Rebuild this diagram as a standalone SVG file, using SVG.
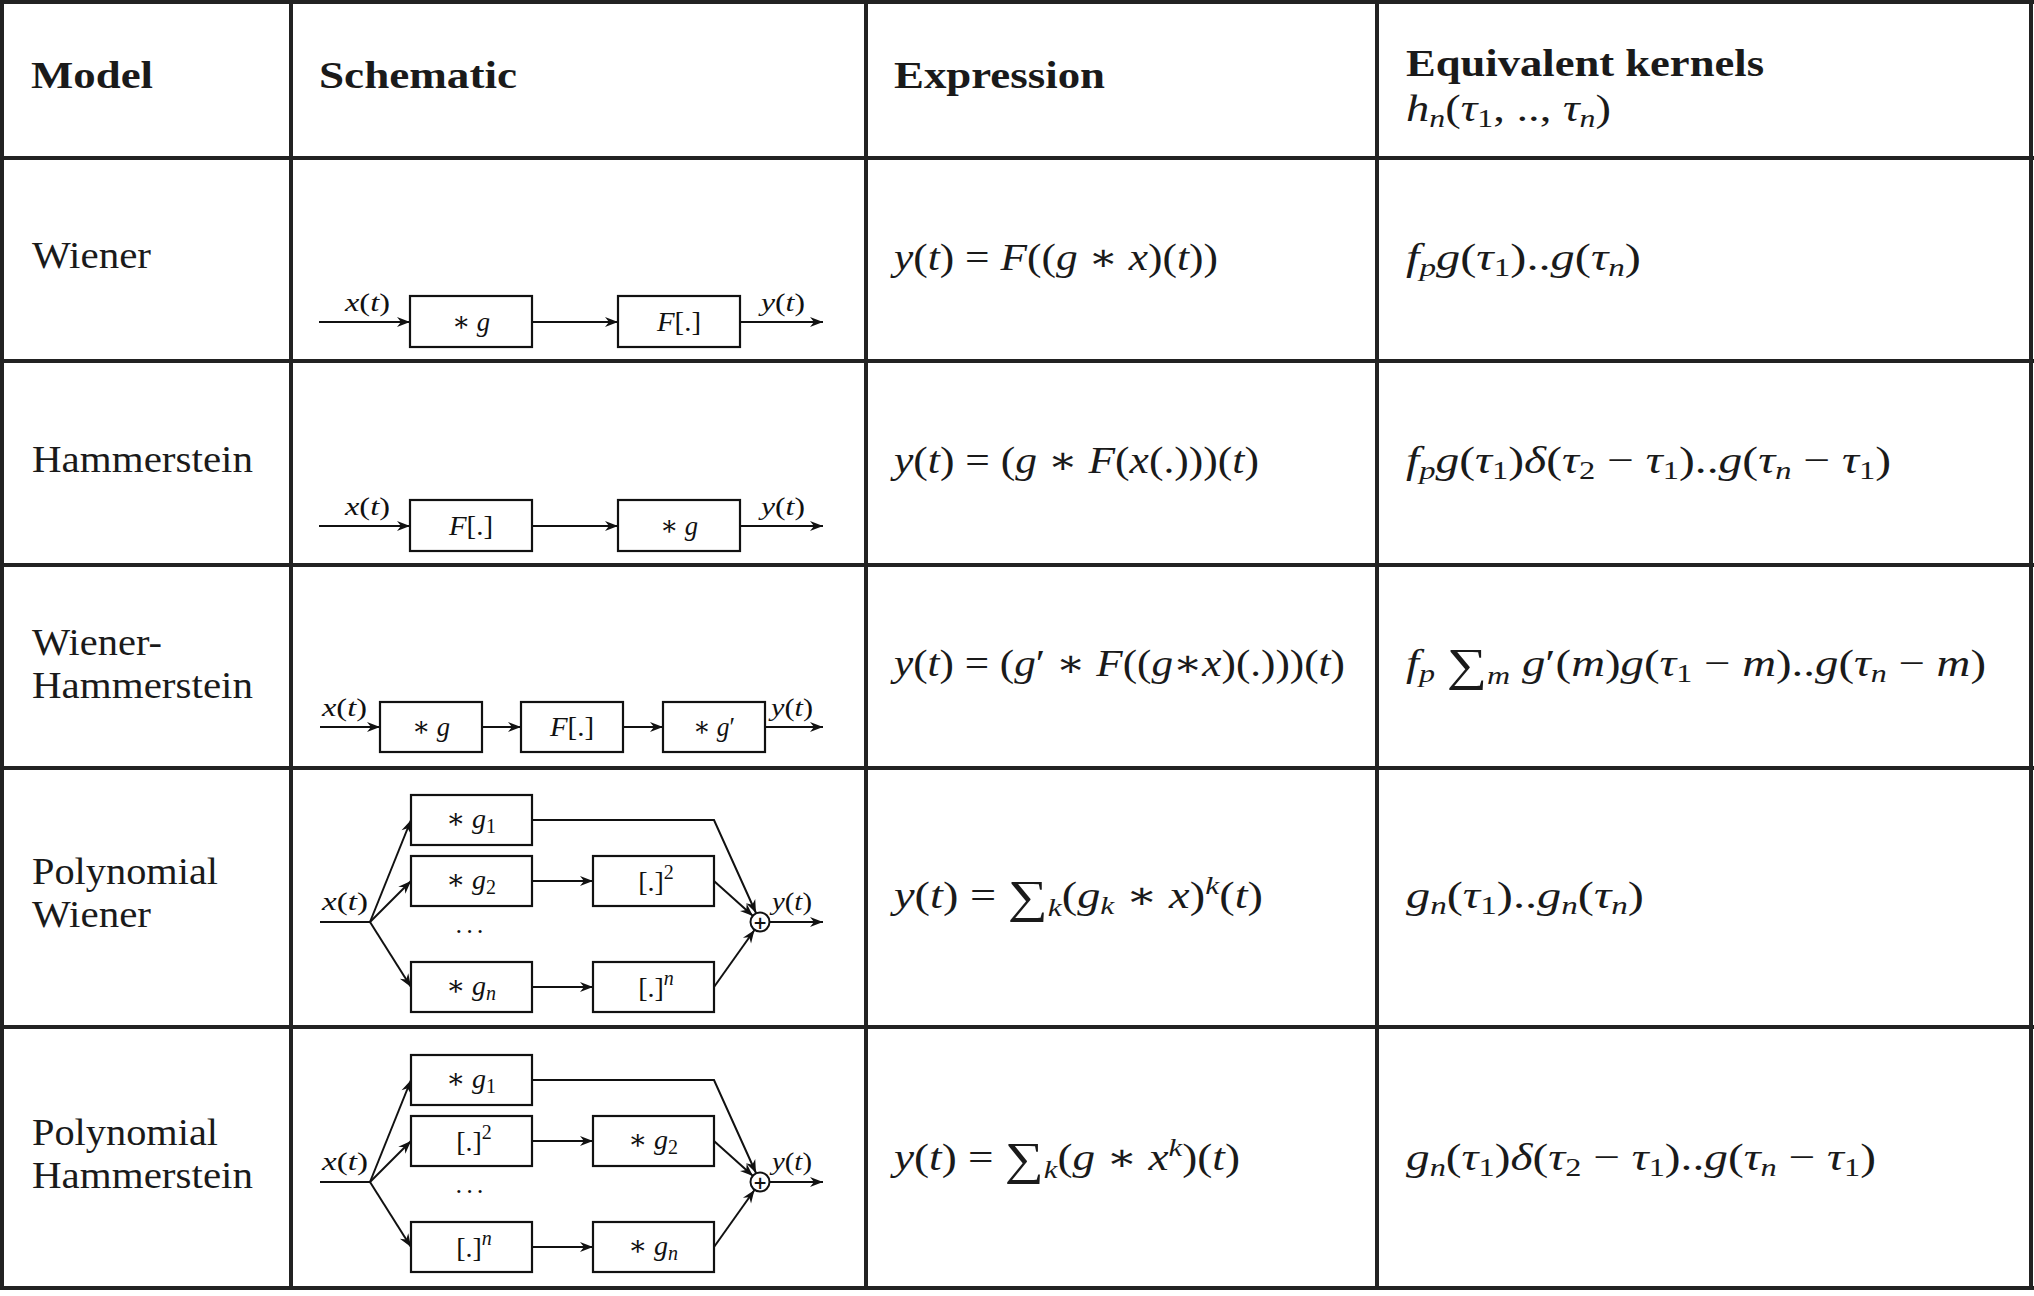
<svg xmlns="http://www.w3.org/2000/svg" width="2034" height="1296" viewBox="0 0 2034 1296">
<style>
.t{font-family:"Liberation Serif","DejaVu Serif",serif;font-size:38px;fill:#1a1a1a}
.hb{font-family:"Liberation Serif","DejaVu Serif",serif;font-size:38px;font-weight:bold;fill:#1a1a1a}
.m{font-family:"Liberation Serif","DejaVu Serif",serif;font-size:38px;fill:#1a1a1a}
.i{font-style:italic}
.s{font-size:26px}
.big{font-size:46px}
.d{font-family:"Liberation Serif","DejaVu Serif",serif;font-size:26px;fill:#111}
.bx{font-family:"Liberation Serif","DejaVu Serif",serif;font-size:28px;fill:#111}
.ds{font-size:20px}
.grid line{stroke:#222;stroke-width:4}
.box{fill:#fff;stroke:#111;stroke-width:2.2}
.w{fill:none;stroke:#111;stroke-width:2}
.a{fill:none;stroke:#111;stroke-width:2;marker-end:url(#ar)}
</style>
<defs>
<marker id="ar" viewBox="-14 -6 15 12" refX="0" refY="0" markerWidth="15" markerHeight="12" markerUnits="userSpaceOnUse" orient="auto">
<path d="M0,0 L-13,-5 L-9,0 L-13,5 Z" fill="#111"/>
</marker>
</defs>
<rect width="2034" height="1296" fill="#fff"/>

<g class="grid" id="grid">
<line x1="0" y1="2" x2="2034" y2="2"/>
<line x1="0" y1="158" x2="2034" y2="158"/>
<line x1="0" y1="361" x2="2034" y2="361"/>
<line x1="0" y1="565" x2="2034" y2="565"/>
<line x1="0" y1="768" x2="2034" y2="768"/>
<line x1="0" y1="1027" x2="2034" y2="1027"/>
<line x1="0" y1="1288" x2="2034" y2="1288"/>
<line x1="2" y1="0" x2="2" y2="1290"/>
<line x1="291" y1="0" x2="291" y2="1290"/>
<line x1="866" y1="0" x2="866" y2="1290"/>
<line x1="1377" y1="0" x2="1377" y2="1290"/>
<line x1="2031" y1="0" x2="2031" y2="1290"/>
</g>

<g id="header">
<text x="31" y="88" class="hb" textLength="122" lengthAdjust="spacingAndGlyphs">Model</text>
<text x="319" y="88" class="hb" textLength="198" lengthAdjust="spacingAndGlyphs">Schematic</text>
<text x="894" y="88" class="hb" textLength="211" lengthAdjust="spacingAndGlyphs">Expression</text>
<text x="1406" y="76" class="hb" textLength="358" lengthAdjust="spacingAndGlyphs">Equivalent kernels</text>
<text x="1406" y="121" class="m" textLength="205" lengthAdjust="spacingAndGlyphs"><tspan class="i">h</tspan><tspan class="i s" dy="6">n</tspan><tspan dy="-6">(</tspan><tspan class="i">τ</tspan><tspan class="s" dy="6">1</tspan><tspan dy="-6">, .., </tspan><tspan class="i">τ</tspan><tspan class="i s" dy="6">n</tspan><tspan dy="-6">)</tspan></text>
</g>

<g id="models">
<text x="32" y="268" class="t" textLength="119" lengthAdjust="spacingAndGlyphs">Wiener</text>
<text x="32" y="472" class="t" textLength="221" lengthAdjust="spacingAndGlyphs">Hammerstein</text>
<text x="32" y="655" class="t" textLength="130" lengthAdjust="spacingAndGlyphs">Wiener-</text>
<text x="32" y="698" class="t" textLength="221" lengthAdjust="spacingAndGlyphs">Hammerstein</text>
<text x="32" y="884" class="t" textLength="186" lengthAdjust="spacingAndGlyphs">Polynomial</text>
<text x="32" y="927" class="t" textLength="119" lengthAdjust="spacingAndGlyphs">Wiener</text>
<text x="32" y="1145" class="t" textLength="186" lengthAdjust="spacingAndGlyphs">Polynomial</text>
<text x="32" y="1188" class="t" textLength="221" lengthAdjust="spacingAndGlyphs">Hammerstein</text>
</g>

<g id="expressions">
<text x="894" y="270" class="m" textLength="324" lengthAdjust="spacingAndGlyphs"><tspan class="i">y</tspan>(<tspan class="i">t</tspan>) = <tspan class="i">F</tspan>((<tspan class="i">g</tspan> ∗ <tspan class="i">x</tspan>)(<tspan class="i">t</tspan>))</text>
<text x="894" y="473" class="m" textLength="365" lengthAdjust="spacingAndGlyphs"><tspan class="i">y</tspan>(<tspan class="i">t</tspan>) = (<tspan class="i">g</tspan> ∗ <tspan class="i">F</tspan>(<tspan class="i">x</tspan>(.)))(<tspan class="i">t</tspan>)</text>
<text x="894" y="676" class="m" textLength="451" lengthAdjust="spacingAndGlyphs"><tspan class="i">y</tspan>(<tspan class="i">t</tspan>) = (<tspan class="i">g</tspan>′ ∗ <tspan class="i">F</tspan>((<tspan class="i">g</tspan>∗<tspan class="i">x</tspan>)(.)))(<tspan class="i">t</tspan>)</text>
<text x="894" y="908" class="m" textLength="369" lengthAdjust="spacingAndGlyphs"><tspan class="i">y</tspan>(<tspan class="i">t</tspan>) = <tspan class="big" dy="4">∑</tspan><tspan class="i s" dy="4">k</tspan><tspan dy="-8">(</tspan><tspan class="i">g</tspan><tspan class="i s" dy="6">k</tspan><tspan dy="-6"> ∗ </tspan><tspan class="i">x</tspan>)<tspan class="i s" dy="-14">k</tspan><tspan dy="14">(</tspan><tspan class="i">t</tspan>)</text>
<text x="894" y="1170" class="m" textLength="346" lengthAdjust="spacingAndGlyphs"><tspan class="i">y</tspan>(<tspan class="i">t</tspan>) = <tspan class="big" dy="4">∑</tspan><tspan class="i s" dy="4">k</tspan><tspan dy="-8">(</tspan><tspan class="i">g</tspan> ∗ <tspan class="i">x</tspan><tspan class="i s" dy="-14">k</tspan><tspan dy="14">)(</tspan><tspan class="i">t</tspan>)</text>
</g>

<g id="kernels">
<text x="1406" y="270" class="m" textLength="235" lengthAdjust="spacingAndGlyphs"><tspan class="i">f</tspan><tspan class="i s" dy="6">p</tspan><tspan class="i" dy="-6">g</tspan>(<tspan class="i">τ</tspan><tspan class="s" dy="6">1</tspan><tspan dy="-6">)..</tspan><tspan class="i">g</tspan>(<tspan class="i">τ</tspan><tspan class="i s" dy="6">n</tspan><tspan dy="-6">)</tspan></text>
<text x="1406" y="473" class="m" textLength="485" lengthAdjust="spacingAndGlyphs"><tspan class="i">f</tspan><tspan class="i s" dy="6">p</tspan><tspan class="i" dy="-6">g</tspan>(<tspan class="i">τ</tspan><tspan class="s" dy="6">1</tspan><tspan dy="-6">)</tspan><tspan class="i">δ</tspan>(<tspan class="i">τ</tspan><tspan class="s" dy="6">2</tspan><tspan dy="-6"> − </tspan><tspan class="i">τ</tspan><tspan class="s" dy="6">1</tspan><tspan dy="-6">)..</tspan><tspan class="i">g</tspan>(<tspan class="i">τ</tspan><tspan class="i s" dy="6">n</tspan><tspan dy="-6"> − </tspan><tspan class="i">τ</tspan><tspan class="s" dy="6">1</tspan><tspan dy="-6">)</tspan></text>
<text x="1406" y="676" class="m" textLength="580" lengthAdjust="spacingAndGlyphs"><tspan class="i">f</tspan><tspan class="i s" dy="6">p</tspan><tspan dy="-6"> </tspan><tspan class="big" dy="4">∑</tspan><tspan class="i s" dy="4">m</tspan><tspan class="i" dy="-8"> g</tspan>′(<tspan class="i">m</tspan>)<tspan class="i">g</tspan>(<tspan class="i">τ</tspan><tspan class="s" dy="6">1</tspan><tspan dy="-6"> − </tspan><tspan class="i">m</tspan>)..<tspan class="i">g</tspan>(<tspan class="i">τ</tspan><tspan class="i s" dy="6">n</tspan><tspan dy="-6"> − </tspan><tspan class="i">m</tspan>)</text>
<text x="1406" y="908" class="m" textLength="238" lengthAdjust="spacingAndGlyphs"><tspan class="i">g</tspan><tspan class="i s" dy="6">n</tspan><tspan dy="-6">(</tspan><tspan class="i">τ</tspan><tspan class="s" dy="6">1</tspan><tspan dy="-6">)..</tspan><tspan class="i">g</tspan><tspan class="i s" dy="6">n</tspan><tspan dy="-6">(</tspan><tspan class="i">τ</tspan><tspan class="i s" dy="6">n</tspan><tspan dy="-6">)</tspan></text>
<text x="1406" y="1170" class="m" textLength="470" lengthAdjust="spacingAndGlyphs"><tspan class="i">g</tspan><tspan class="i s" dy="6">n</tspan><tspan dy="-6">(</tspan><tspan class="i">τ</tspan><tspan class="s" dy="6">1</tspan><tspan dy="-6">)</tspan><tspan class="i">δ</tspan>(<tspan class="i">τ</tspan><tspan class="s" dy="6">2</tspan><tspan dy="-6"> − </tspan><tspan class="i">τ</tspan><tspan class="s" dy="6">1</tspan><tspan dy="-6">)..</tspan><tspan class="i">g</tspan>(<tspan class="i">τ</tspan><tspan class="i s" dy="6">n</tspan><tspan dy="-6"> − </tspan><tspan class="i">τ</tspan><tspan class="s" dy="6">1</tspan><tspan dy="-6">)</tspan></text>
</g>

<g id="connectors">
<path class="a" d="M319,322 H410"/>
<path class="a" d="M532,322 H618"/>
<path class="a" d="M740,322 H823"/>
<path class="a" d="M319,526 H410"/>
<path class="a" d="M532,526 H618"/>
<path class="a" d="M740,526 H823"/>
<path class="a" d="M320,727 H380"/>
<path class="a" d="M482,727 H521"/>
<path class="a" d="M623,727 H663"/>
<path class="a" d="M765,727 H823"/>
<path class="w" d="M320,922 H370"/>
<path class="a" d="M370,922 L411,820"/>
<path class="a" d="M370,922 L411,881"/>
<path class="a" d="M370,922 L411,987"/>
<path class="a" d="M532,881 H593"/>
<path class="a" d="M532,987 H593"/>
<path class="a" d="M532,820 H714 L756,913"/>
<path class="a" d="M714,881 L753,916"/>
<path class="a" d="M714,987 L754.5,930"/>
<path class="a" d="M769.5,922 H823"/>
<path class="w" d="M320,1182 H370"/>
<path class="a" d="M370,1182 L411,1080"/>
<path class="a" d="M370,1182 L411,1141"/>
<path class="a" d="M370,1182 L411,1247"/>
<path class="a" d="M532,1141 H593"/>
<path class="a" d="M532,1247 H593"/>
<path class="a" d="M532,1080 H714 L756,1173"/>
<path class="a" d="M714,1141 L753,1176"/>
<path class="a" d="M714,1247 L754.5,1190"/>
<path class="a" d="M769.5,1182 H823"/>
</g>

<g id="signal-labels" class="d">
<text x="345" y="311" textLength="45" lengthAdjust="spacingAndGlyphs"><tspan class="i">x</tspan>(<tspan class="i">t</tspan>)</text>
<text x="761" y="311" textLength="44" lengthAdjust="spacingAndGlyphs"><tspan class="i">y</tspan>(<tspan class="i">t</tspan>)</text>
<text x="345" y="515" textLength="45" lengthAdjust="spacingAndGlyphs"><tspan class="i">x</tspan>(<tspan class="i">t</tspan>)</text>
<text x="761" y="515" textLength="44" lengthAdjust="spacingAndGlyphs"><tspan class="i">y</tspan>(<tspan class="i">t</tspan>)</text>
<text x="322" y="716" textLength="45" lengthAdjust="spacingAndGlyphs"><tspan class="i">x</tspan>(<tspan class="i">t</tspan>)</text>
<text x="771" y="716" textLength="42" lengthAdjust="spacingAndGlyphs"><tspan class="i">y</tspan>(<tspan class="i">t</tspan>)</text>
<text x="322" y="910" textLength="46" lengthAdjust="spacingAndGlyphs"><tspan class="i">x</tspan>(<tspan class="i">t</tspan>)</text>
<text x="772" y="910" textLength="40" lengthAdjust="spacingAndGlyphs"><tspan class="i">y</tspan>(<tspan class="i">t</tspan>)</text>
<text x="322" y="1170" textLength="46" lengthAdjust="spacingAndGlyphs"><tspan class="i">x</tspan>(<tspan class="i">t</tspan>)</text>
<text x="772" y="1170" textLength="40" lengthAdjust="spacingAndGlyphs"><tspan class="i">y</tspan>(<tspan class="i">t</tspan>)</text>
<text x="469.5" y="940" text-anchor="middle" textLength="30">· · ·</text>
<text x="469.5" y="1200" text-anchor="middle" textLength="30">· · ·</text>
</g>

<g id="w-g"><rect class="box" x="410" y="296" width="122" height="51"/><text class="bx" x="471" y="331" text-anchor="middle" textLength="38" lengthAdjust="spacingAndGlyphs">∗ <tspan class="i">g</tspan></text></g>
<g id="w-F"><rect class="box" x="618" y="296" width="122" height="51"/><text class="bx" x="679" y="331" text-anchor="middle" textLength="44" lengthAdjust="spacingAndGlyphs"><tspan class="i">F</tspan>[.]</text></g>

<g id="h-F"><rect class="box" x="410" y="500" width="122" height="51"/><text class="bx" x="471" y="535" text-anchor="middle" textLength="44" lengthAdjust="spacingAndGlyphs"><tspan class="i">F</tspan>[.]</text></g>
<g id="h-g"><rect class="box" x="618" y="500" width="122" height="51"/><text class="bx" x="679" y="535" text-anchor="middle" textLength="38" lengthAdjust="spacingAndGlyphs">∗ <tspan class="i">g</tspan></text></g>

<g id="wh-g"><rect class="box" x="380" y="702" width="102" height="50"/><text class="bx" x="431" y="736" text-anchor="middle" textLength="38" lengthAdjust="spacingAndGlyphs">∗ <tspan class="i">g</tspan></text></g>
<g id="wh-F"><rect class="box" x="521" y="702" width="102" height="50"/><text class="bx" x="572" y="736" text-anchor="middle" textLength="44" lengthAdjust="spacingAndGlyphs"><tspan class="i">F</tspan>[.]</text></g>
<g id="wh-g2"><rect class="box" x="663" y="702" width="102" height="50"/><text class="bx" x="714" y="736" text-anchor="middle" textLength="42" lengthAdjust="spacingAndGlyphs">∗ <tspan class="i">g</tspan>′</text></g>

<g id="pw-g1"><rect class="box" x="411" y="795" width="121" height="50"/><text class="bx" x="471" y="828" text-anchor="middle">∗ <tspan class="i">g</tspan><tspan class="ds" dy="5">1</tspan></text></g>
<g id="pw-g2"><rect class="box" x="411" y="856" width="121" height="50"/><text class="bx" x="471" y="889" text-anchor="middle">∗ <tspan class="i">g</tspan><tspan class="ds" dy="5">2</tspan></text></g>
<g id="pw-gn"><rect class="box" x="411" y="962" width="121" height="50"/><text class="bx" x="471" y="995" text-anchor="middle">∗ <tspan class="i">g</tspan><tspan class="i ds" dy="5">n</tspan></text></g>
<g id="pw-sq"><rect class="box" x="593" y="856" width="121" height="50"/><text class="bx" x="656" y="891" text-anchor="middle">[.]<tspan class="ds" dy="-12">2</tspan></text></g>
<g id="pw-pn"><rect class="box" x="593" y="962" width="121" height="50"/><text class="bx" x="656" y="997" text-anchor="middle">[.]<tspan class="i ds" dy="-12">n</tspan></text></g>
<g id="pw-sum"><circle cx="760" cy="922" r="9.5" fill="#fff" stroke="#111" stroke-width="2"/><text x="760" y="928.5" text-anchor="middle" font-family="'DejaVu Sans',sans-serif" font-size="17" font-weight="bold" fill="#111">+</text></g>

<g id="ph-g1"><rect class="box" x="411" y="1055" width="121" height="50"/><text class="bx" x="471" y="1088" text-anchor="middle">∗ <tspan class="i">g</tspan><tspan class="ds" dy="5">1</tspan></text></g>
<g id="ph-sq"><rect class="box" x="411" y="1116" width="121" height="50"/><text class="bx" x="474" y="1151" text-anchor="middle">[.]<tspan class="ds" dy="-12">2</tspan></text></g>
<g id="ph-pn"><rect class="box" x="411" y="1222" width="121" height="50"/><text class="bx" x="474" y="1257" text-anchor="middle">[.]<tspan class="i ds" dy="-12">n</tspan></text></g>
<g id="ph-g2"><rect class="box" x="593" y="1116" width="121" height="50"/><text class="bx" x="653" y="1149" text-anchor="middle">∗ <tspan class="i">g</tspan><tspan class="ds" dy="5">2</tspan></text></g>
<g id="ph-gn"><rect class="box" x="593" y="1222" width="121" height="50"/><text class="bx" x="653" y="1255" text-anchor="middle">∗ <tspan class="i">g</tspan><tspan class="i ds" dy="5">n</tspan></text></g>
<g id="ph-sum"><circle cx="760" cy="1182" r="9.5" fill="#fff" stroke="#111" stroke-width="2"/><text x="760" y="1188.5" text-anchor="middle" font-family="'DejaVu Sans',sans-serif" font-size="17" font-weight="bold" fill="#111">+</text></g>
</svg>
